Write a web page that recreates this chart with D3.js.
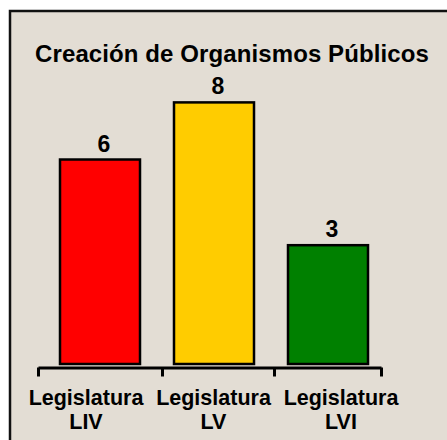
<!DOCTYPE html>
<html>
<head>
<meta charset="utf-8">
<script src="https://cdn.jsdelivr.net/npm/d3@7"></script>
<style>
  body { margin: 0; background: #fff; }
  svg text { font-family: "Liberation Sans", Arial, sans-serif; font-weight: bold; fill: #000; }
</style>
</head>
<body>
<svg id="chart" width="447" height="440"></svg>
<script>
// data
var title = "Creación de Organismos Públicos";
var categories = ["LIV", "LV", "LVI"];
var labelLine1 = ["Legislatura", "Legislatura", "Legislatura"];
var values = [6, 8, 3];
var colors = ["#ff0000", "#ffcc00", "#008000"];

var svg = d3.select("#chart");

// chart area background with the dark frame (runs off the right and bottom edge)
svg.append("rect")
  .attr("x", 10).attr("y", 11)
  .attr("width", 460).attr("height", 460)
  .attr("fill", "#e3ddd4")
  .attr("stroke", "#111")
  .attr("stroke-width", 2.5);

svg.append("text")
  .attr("x", 232).attr("y", 62)
  .attr("text-anchor", "middle")
  .style("font-size", "24px")
  .style("letter-spacing", "0.1px")
  .text(title);

// bar centres
var x = d3.scalePoint()
  .domain(categories)
  .range([100, 328]);
var barW = 80;

// value axis of the original does not start at 0
var y = d3.scaleLinear()
  .domain([-1.16, 8])
  .range([364, 102.4]);

// category boundaries for the tick marks
var xb = d3.scaleLinear()
  .domain([0, 1, 2, 3])
  .range([38, 162, 274, 381]);

// label centres
var xl = d3.scalePoint()
  .domain(categories)
  .range([86, 341]);

var bars = svg.append("g");
bars.selectAll("rect")
  .data(values)
  .enter()
  .append("rect")
  .attr("x", (d, i) => x(categories[i]) - barW / 2)
  .attr("y", d => y(d))
  .attr("width", barW)
  .attr("height", d => y(y.domain()[0]) - y(d))
  .attr("fill", (d, i) => colors[i])
  .attr("stroke", "#000")
  .attr("stroke-width", 2.5);

bars.selectAll("text")
  .data(values)
  .enter()
  .append("text")
  .attr("x", (d, i) => x(categories[i]) + 4)
  .attr("y", d => y(d) - 8)
  .attr("text-anchor", "middle")
  .style("font-size", "23px")
  .text(d => d);

var axis = svg.append("g")
  .attr("transform", "translate(0,367.5)")
  .call(d3.axisBottom(xb).tickValues([0, 1, 2, 3]).tickSize(9).tickSizeOuter(0).tickFormat(""));
axis.select(".domain").attr("stroke", "#000").attr("stroke-width", 3);
axis.selectAll(".tick line").attr("stroke", "#000").attr("stroke-width", 3);

var labels = svg.append("g");
categories.forEach(function(c, i) {
  var t = labels.append("text")
    .attr("text-anchor", "middle")
    .style("font-size", "21.5px");
  t.append("tspan").attr("x", xl(c)).attr("y", 405).text(labelLine1[i]);
  t.append("tspan").attr("x", xl(c)).attr("y", 429).text(c);
});
</script>
</body>
</html>
